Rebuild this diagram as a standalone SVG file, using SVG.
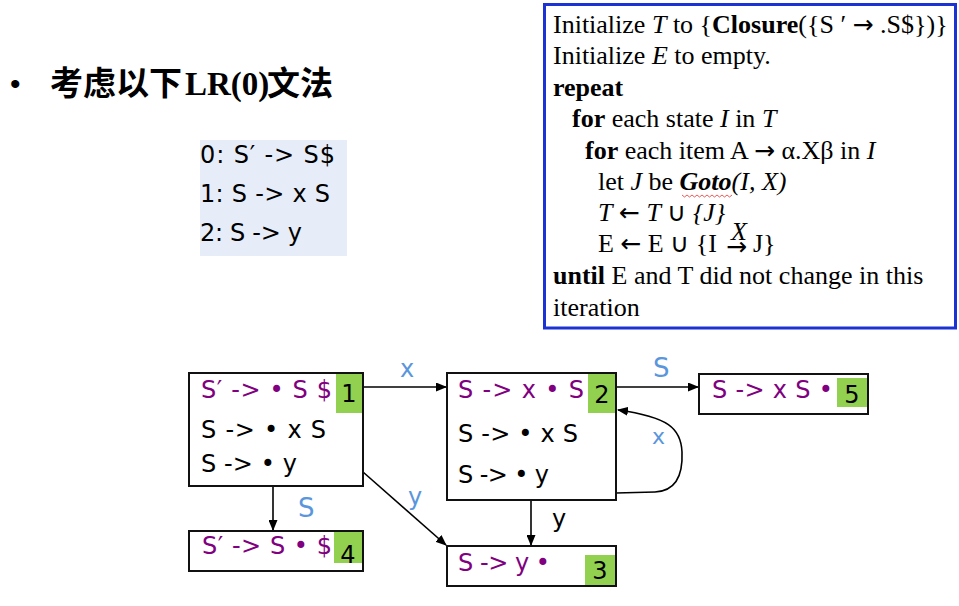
<svg xmlns="http://www.w3.org/2000/svg" width="959" height="606" viewBox="0 0 959 606">
<style>
.st{font-family:"DejaVu Sans","Noto Sans",sans-serif;font-size:24px;}
.pu{fill:#800080;}
.bk{fill:#000;}
.box{fill:none;stroke:#111;stroke-width:2;}
.badge{fill:#92D050;}
.num{font-family:"DejaVu Sans",sans-serif;font-size:24px;fill:#000;text-anchor:middle;}
.lbl{font-family:"DejaVu Sans",sans-serif;fill:#5A96DC;}
.alg{font-family:"Liberation Serif","Times New Roman",serif;font-size:26px;fill:#000;}
.ar{font-family:"DejaVu Sans",sans-serif;font-size:25px;}
.b{font-weight:bold;}
.i{font-style:italic;}
.edge{fill:none;stroke:#000;stroke-width:1.6;}
.gram{font-family:"DejaVu Sans","Noto Sans",sans-serif;font-size:24px;fill:#000;}
</style>
<defs>
<marker id="ah" markerUnits="userSpaceOnUse" markerWidth="11" markerHeight="9" refX="10" refY="4.5" orient="auto">
<path d="M0,0 L11,4.5 L0,9 z" fill="#000"/>
</marker>
</defs>
<rect width="959" height="606" fill="#fff"/>

<g id="title">
<text x="10" y="94" font-family="Liberation Sans,sans-serif" font-size="30" fill="#000">•</text>
<text y="95" font-weight="bold" fill="#000"><tspan x="50" font-family="Noto Sans CJK SC,sans-serif" font-size="33">考虑以下</tspan><tspan x="185" font-family="Liberation Serif,serif" font-size="33">LR(0)</tspan><tspan x="267" font-family="Noto Sans CJK SC,sans-serif" font-size="33">文法</tspan></text>
</g>

<g id="grammar">
<rect x="200" y="140" width="147" height="116" fill="#E6EDF8"/>
<text class="gram" x="200" y="163" textLength="135" lengthAdjust="spacing">0: S′ -&gt; S$</text>
<text class="gram" x="200" y="202" textLength="130" lengthAdjust="spacing">1: S -&gt; x S</text>
<text class="gram" x="200" y="241" textLength="102" lengthAdjust="spacing">2: S -&gt; y</text>
</g>

<g id="algorithm">
<rect x="544.5" y="4.5" width="411" height="323.5" fill="#fff" stroke="#1C33D4" stroke-width="3"/>
<text class="alg" x="553" y="33">Initialize <tspan class="i">T</tspan> to {<tspan class="b">Closure</tspan>({S ′ <tspan class="ar">→</tspan> .S$})}</text>
<text class="alg" x="553" y="64">Initialize <tspan class="i">E</tspan> to empty.</text>
<text class="alg b" x="553" y="96">repeat</text>
<text class="alg" x="572" y="127"><tspan class="b">for</tspan> each state <tspan class="i">I</tspan> in <tspan class="i">T</tspan></text>
<text class="alg" x="585" y="159"><tspan class="b">for</tspan> each item A <tspan class="ar">→</tspan> α.Xβ in <tspan class="i">I</tspan></text>
<text class="alg" x="598" y="190">let <tspan class="i">J</tspan> be <tspan class="b i">Goto</tspan><tspan class="i">(I, X)</tspan></text>
<path d="M682,195 l2.5,2 l2.5,-2 l2.5,2 l2.5,-2 l2.5,2 l2.5,-2 l2.5,2 l2.5,-2 l2.5,2 l2.5,-2 l2.5,2 l2.5,-2 l2.5,2 l2.5,-2 l2.5,2 l2.5,-2 l2.5,2 l2.5,-2 l2.5,2 l2.5,-2" fill="none" stroke="#E03030" stroke-width="0.8"/>
<text class="alg" x="598" y="221"><tspan class="i">T</tspan> <tspan class="ar">←</tspan> <tspan class="i">T</tspan> ∪ <tspan class="i">{J}</tspan></text>
<text class="alg" x="598" y="252">E <tspan class="ar">←</tspan> E ∪ {I</text>
<text class="ar" x="726" y="255" font-size="21">→</text>
<text class="alg i" x="731" y="240" font-size="15">X</text>
<text class="alg" x="753" y="252">J}</text>
<text class="alg" x="553" y="284"><tspan class="b">until</tspan> E and T did not change in this</text>
<text class="alg" x="553" y="316">iteration</text>
</g>

<g id="connectors">
<path class="edge" d="M363,387 H446" marker-end="url(#ah)"/>
<path class="edge" d="M616,387 H698" marker-end="url(#ah)"/>
<path class="edge" d="M273,486 V530" marker-end="url(#ah)"/>
<path class="edge" d="M531,500 V545" marker-end="url(#ah)"/>
<path class="edge" d="M363,472 L446,545" marker-end="url(#ah)"/>
<path class="edge" d="M616,493 L655,492 C676,491 683,475 682,452 C681,428 668,417 618,410" marker-end="url(#ah)"/>
<text class="lbl" x="400" y="377" font-size="24">x</text>
<text class="lbl" x="653" y="377" font-size="26">S</text>
<text class="lbl" x="298" y="517" font-size="26">S</text>
<text class="lbl" x="408" y="505" font-size="24">y</text>
<text x="552" y="527" font-family="DejaVu Sans,sans-serif" font-size="24" fill="#000">y</text>
<text class="lbl" x="652" y="444" font-size="22">x</text>
</g>

<g id="state1">
<rect class="badge" x="336" y="373" width="27" height="40"/>
<rect class="box" x="189" y="373" width="174" height="113"/>
<text class="st pu" x="201" y="398" textLength="131" lengthAdjust="spacing">S′ -&gt; • S $</text>
<text class="st bk" x="201" y="438" textLength="125" lengthAdjust="spacing">S -&gt; • x S</text>
<text class="st bk" x="201" y="472" textLength="96" lengthAdjust="spacing">S -&gt; • y</text>
<text class="num" x="349" y="402">1</text>
</g>

<g id="state4">
<rect class="badge" x="334" y="531" width="29" height="32"/>
<rect class="box" x="189" y="531" width="174" height="40"/>
<text class="st pu" x="202" y="554" textLength="130" lengthAdjust="spacing">S′ -&gt; S • $</text>
<text class="num" x="348" y="563">4</text>
</g>

<g id="state2">
<rect class="badge" x="588" y="373" width="28" height="40"/>
<rect class="box" x="447" y="373" width="169" height="127"/>
<text class="st pu" x="458" y="398" textLength="126" lengthAdjust="spacing">S -&gt; x • S</text>
<text class="st bk" x="458" y="442" textLength="120" lengthAdjust="spacing">S -&gt; • x S</text>
<text class="st bk" x="458" y="483" textLength="91" lengthAdjust="spacing">S -&gt; • y</text>
<text class="num" x="602" y="403">2</text>
</g>

<g id="state3">
<rect class="badge" x="585" y="555" width="31" height="31"/>
<rect class="box" x="447" y="546" width="169" height="40"/>
<text class="st pu" x="458" y="571" textLength="92" lengthAdjust="spacing">S -&gt; y •</text>
<text class="num" x="600" y="579">3</text>
</g>

<g id="state5">
<rect class="badge" x="837" y="378" width="31" height="29"/>
<rect class="box" x="699" y="374" width="169" height="40"/>
<text class="st pu" x="712" y="398" textLength="121" lengthAdjust="spacing">S -&gt; x S •</text>
<text class="num" x="852" y="403">5</text>
</g>
</svg>
